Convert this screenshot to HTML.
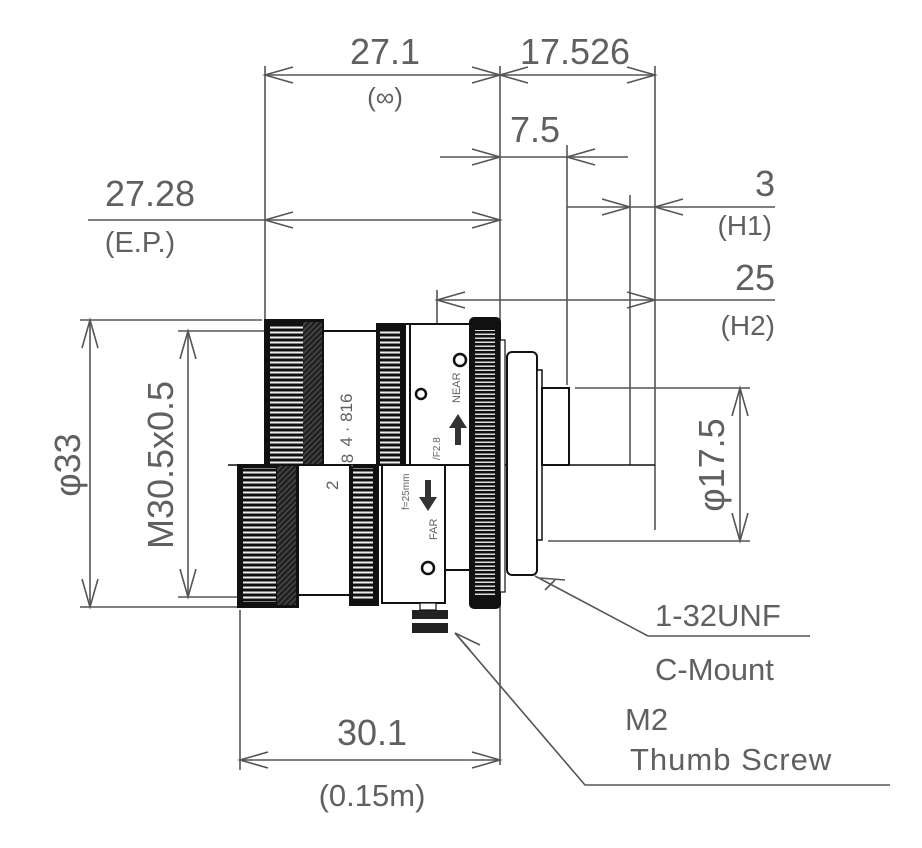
<!DOCTYPE html>
<html><head><meta charset="utf-8"><style>
html,body{margin:0;padding:0;background:#fff;}
svg{display:block;}
text{font-family:"Liberation Sans",sans-serif;fill:#606060;}
</style></head><body>
<svg width="922" height="848" viewBox="0 0 922 848" xmlns="http://www.w3.org/2000/svg">
<defs>
<pattern id="st" width="8" height="5" patternUnits="userSpaceOnUse">
<rect width="8" height="5" fill="#111"/><rect y="1.5" width="8" height="2" fill="#eee"/>
</pattern>
<pattern id="st2" width="8" height="4" patternUnits="userSpaceOnUse">
<rect width="8" height="4" fill="#111"/><rect y="1.5" width="8" height="1.5" fill="#ddd"/>
</pattern>
<pattern id="hat" width="4" height="4" patternUnits="userSpaceOnUse" patternTransform="rotate(45)">
<rect width="4" height="4" fill="#222"/><rect width="1" height="4" fill="#555"/>
</pattern>
</defs>
<g stroke="#555" stroke-width="1.6" fill="none">
<line x1="265" y1="66" x2="265" y2="320"/>
<line x1="500" y1="66" x2="500" y2="765"/>
<line x1="655" y1="66" x2="655" y2="530"/>
<line x1="265" y1="75" x2="655" y2="75"/>
<polyline points="293,67 265,75 293,83"/><polyline points="472,67 500,75 472,83"/>
<polyline points="528,67 500,75 528,83"/><polyline points="627,67 655,75 627,83"/>
<line x1="440" y1="157" x2="628" y2="157"/>
<polyline points="472,149 500,157 472,165"/><polyline points="595,149 567,157 595,165"/>
<line x1="567" y1="145" x2="567" y2="385"/>
<line x1="567" y1="207" x2="775" y2="207"/>
<polyline points="602,199 630,207 602,215"/><polyline points="683,199 655,207 683,215"/>
<line x1="630" y1="195" x2="630" y2="465"/>
<line x1="88" y1="220" x2="500" y2="220"/>
<polyline points="293,212 265,220 293,228"/><polyline points="472,212 500,220 472,228"/>
<line x1="437" y1="300" x2="775" y2="300"/>
<polyline points="465,292 437,300 465,308"/><polyline points="627,292 655,300 627,308"/>
<line x1="437" y1="290" x2="437" y2="330"/>
<line x1="575" y1="388" x2="750" y2="388"/>
<line x1="548" y1="541" x2="750" y2="541"/>
<line x1="740" y1="388" x2="740" y2="541"/>
<polyline points="732,416 740,388 748,416"/><polyline points="732,513 740,541 748,513"/>
<line x1="80" y1="320" x2="262" y2="320"/>
<line x1="80" y1="607" x2="238" y2="607"/>
<line x1="90" y1="320" x2="90" y2="607"/>
<polyline points="82,348 90,320 98,348"/><polyline points="82,579 90,607 98,579"/>
<line x1="178" y1="331" x2="322" y2="331"/>
<line x1="178" y1="597" x2="298" y2="597"/>
<line x1="188" y1="331" x2="188" y2="597"/>
<polyline points="180,359 188,331 196,359"/><polyline points="180,569 188,597 196,569"/>
<line x1="240" y1="610" x2="240" y2="770"/>
<line x1="240" y1="760" x2="500" y2="760"/>
<polyline points="268,752 240,760 268,768"/><polyline points="472,752 500,760 472,768"/>
<polyline points="535,576 648,636 810,636"/>
<polyline points="555,580 545,590"/><line x1="540" y1="578" x2="565" y2="580"/>
<polyline points="455,633 585,785 890,785"/>
<polyline points="470,650 455,633 480,645"/>
<line x1="228" y1="465" x2="655" y2="465" stroke="#111" stroke-width="1.5"/>
</g>
<g stroke="#111" stroke-width="2">
<rect x="265" y="320" width="58" height="145" fill="#111"/>
<rect x="270" y="325" width="33" height="140" fill="url(#st)" stroke="none"/>
<rect x="303" y="322" width="19" height="143" fill="url(#hat)" stroke="none"/>
<rect x="323" y="331" width="54" height="134" fill="#fff"/>
<rect x="377" y="324" width="28" height="141" fill="#111"/>
<rect x="380" y="330" width="20" height="135" fill="url(#st)" stroke="none"/>
<rect x="405" y="324" width="65" height="141" fill="#fff"/>
<line x1="410" y1="324" x2="410" y2="465"/>
<rect x="238" y="465" width="60" height="142" fill="#111"/>
<rect x="243" y="468" width="33" height="134" fill="url(#st)" stroke="none"/>
<rect x="277" y="466" width="19" height="139" fill="url(#hat)" stroke="none"/>
<rect x="298" y="465" width="52" height="130" fill="#fff"/>
<rect x="350" y="465" width="28" height="140" fill="#111"/>
<rect x="353" y="468" width="20" height="132" fill="url(#st)" stroke="none"/>
<rect x="382" y="465" width="63" height="138" fill="#fff"/>
<rect x="445" y="465" width="25" height="105" fill="#fff"/>
<rect x="470" y="318" width="30" height="290" rx="4" fill="#111"/>
<rect x="475" y="330" width="20" height="265" fill="url(#st2)" stroke="none"/>
<rect x="500" y="340" width="5" height="252" fill="#fff" stroke-width="1.2"/>
<rect x="507" y="352" width="30" height="223" rx="5" fill="#fff"/>
<rect x="537" y="370" width="5" height="170" fill="#fff" stroke-width="1.5"/>
<rect x="542" y="388" width="27" height="77" fill="#fff"/>
<rect x="412" y="610" width="36" height="9" fill="#222" stroke="none"/>
<rect x="412" y="623" width="36" height="10" fill="#222" stroke="none"/>
<rect x="420" y="603" width="16" height="7" fill="#fff" stroke-width="1.2"/>
<circle cx="460" cy="360" r="6" fill="#fff" stroke-width="2.5"/>
<circle cx="421" cy="394" r="5" fill="#fff" stroke-width="2.5"/>
<circle cx="428" cy="568" r="6" fill="#fff" stroke-width="2.5"/>
</g>
<path d="M455,445 L455,428 L449,428 L458,414 L467,428 L461,428 L461,445 Z" fill="#333"/>
<path d="M425,480 L425,497 L419,497 L428,511 L437,497 L431,497 L431,480 Z" fill="#333"/>
<g font-size="14" style="fill:#222">
<text transform="translate(352,420) rotate(-90)" text-anchor="middle" font-size="17">4 · 816</text>
<text transform="translate(353,468) rotate(-90)" font-size="17">.8</text>
<text transform="translate(338,490) rotate(-90)" font-size="17">2</text>
<text transform="translate(460,403) rotate(-90)" font-size="11">NEAR</text>
<text transform="translate(437,540) rotate(-90)" font-size="11">FAR</text>
<text transform="translate(409,510) rotate(-90)" font-size="10">f=25mm</text>
<text transform="translate(440,460) rotate(-90)" font-size="10">/F2.8</text>
</g>
<g font-size="36">
<text x="385" y="64" text-anchor="middle">27.1</text>
<text x="385" y="106" text-anchor="middle" font-size="26">(∞)</text>
<text x="575" y="64" text-anchor="middle">17.526</text>
<text x="535" y="142" text-anchor="middle">7.5</text>
<text x="775" y="196" text-anchor="end">3</text>
<text x="772" y="235" text-anchor="end" font-size="28">(H1)</text>
<text x="150" y="206" text-anchor="middle">27.28</text>
<text x="140" y="252" text-anchor="middle" font-size="29">(E.P.)</text>
<text x="775" y="290" text-anchor="end">25</text>
<text x="775" y="335" text-anchor="end" font-size="28">(H2)</text>
<text transform="translate(724,465) rotate(-90)" text-anchor="middle">φ17.5</text>
<text transform="translate(80,465) rotate(-90)" text-anchor="middle">φ33</text>
<text transform="translate(173,465) rotate(-90)" text-anchor="middle">M30.5x0.5</text>
<text x="372" y="745" text-anchor="middle">30.1</text>
<text x="372" y="806" text-anchor="middle" font-size="31">(0.15m)</text>
<text x="655" y="626" font-size="31">1-32UNF</text>
<text x="655" y="680" font-size="31">C-Mount</text>
<text x="625" y="730" font-size="31">M2</text>
<text x="630" y="770" font-size="31" letter-spacing="1">Thumb Screw</text>
</g>
</svg>
</body></html>
